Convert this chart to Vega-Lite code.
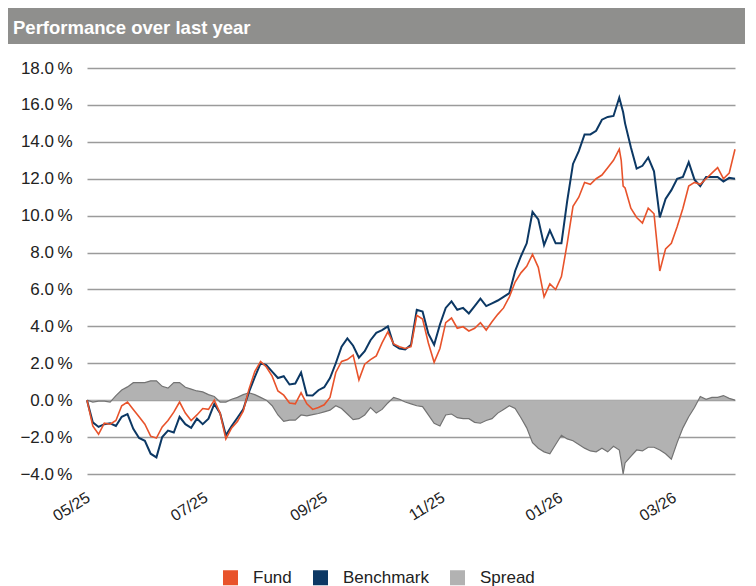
{
  "$schema": "https://vega.github.io/schema/vega-lite/v6.json",
  "padding": {"left": 8, "top": 8, "right": 0, "bottom": 0},
  "background": "white",
  "config": {
    "font": "Liberation Sans",
    "view": {"stroke": null},
    "concat": {"spacing": 15},
    "axisY": {"labelFontSize": 17, "labelOverlap": false},
    "axisX": {"labelFontSize": 16, "labelOverlap": false}
  },
  "datasets": {
    "perf": [
      {"date":"2025-04-30","Fund":0,"Benchmark":0,"Spread":0},
      {"date":"2025-05-03","Fund":-1.4,"Benchmark":-1.2,"Spread":-0.1},
      {"date":"2025-05-06","Fund":-1.85,"Benchmark":-1.45,"Spread":-0.05},
      {"date":"2025-05-09","Fund":-1.25,"Benchmark":-1.3,"Spread":-0.05},
      {"date":"2025-05-12","Fund":-1.3,"Benchmark":-1.25,"Spread":-0.1},
      {"date":"2025-05-15","Fund":-1.1,"Benchmark":-1.4,"Spread":0.25},
      {"date":"2025-05-18","Fund":-0.3,"Benchmark":-0.9,"Spread":0.55},
      {"date":"2025-05-21","Fund":-0.1,"Benchmark":-0.75,"Spread":0.72},
      {"date":"2025-05-24","Fund":-0.5,"Benchmark":-1.55,"Spread":0.95},
      {"date":"2025-05-27","Fund":-0.9,"Benchmark":-2.05,"Spread":0.95},
      {"date":"2025-05-30","Fund":-1.3,"Benchmark":-2.2,"Spread":0.95},
      {"date":"2025-06-02","Fund":-1.95,"Benchmark":-2.9,"Spread":1.05},
      {"date":"2025-06-05","Fund":-2.05,"Benchmark":-3.1,"Spread":1.05},
      {"date":"2025-06-08","Fund":-1.45,"Benchmark":-2.0,"Spread":0.75},
      {"date":"2025-06-11","Fund":-1.1,"Benchmark":-1.65,"Spread":0.65},
      {"date":"2025-06-14","Fund":-0.65,"Benchmark":-1.75,"Spread":0.95},
      {"date":"2025-06-17","Fund":-0.1,"Benchmark":-0.9,"Spread":0.95},
      {"date":"2025-06-20","Fund":-0.7,"Benchmark":-1.3,"Spread":0.7},
      {"date":"2025-06-23","Fund":-1.1,"Benchmark":-1.5,"Spread":0.6},
      {"date":"2025-06-26","Fund":-0.8,"Benchmark":-1.0,"Spread":0.5},
      {"date":"2025-06-29","Fund":-0.45,"Benchmark":-1.3,"Spread":0.45},
      {"date":"2025-07-02","Fund":-0.5,"Benchmark":-1.0,"Spread":0.3},
      {"date":"2025-07-05","Fund":0.0,"Benchmark":-0.2,"Spread":0.2},
      {"date":"2025-07-08","Fund":-0.7,"Benchmark":-0.7,"Spread":-0.1},
      {"date":"2025-07-11","Fund":-2.1,"Benchmark":-1.9,"Spread":-0.1},
      {"date":"2025-07-14","Fund":-1.5,"Benchmark":-1.4,"Spread":0.05},
      {"date":"2025-07-17","Fund":-1.15,"Benchmark":-0.95,"Spread":0.15},
      {"date":"2025-07-20","Fund":-0.6,"Benchmark":-0.5,"Spread":0.3},
      {"date":"2025-07-23","Fund":0.6,"Benchmark":0.45,"Spread":0.4},
      {"date":"2025-07-26","Fund":1.55,"Benchmark":1.25,"Spread":0.3},
      {"date":"2025-07-29","Fund":2.1,"Benchmark":2.0,"Spread":0.15},
      {"date":"2025-08-01","Fund":1.8,"Benchmark":1.9,"Spread":0.0},
      {"date":"2025-08-04","Fund":1.3,"Benchmark":1.55,"Spread":-0.3},
      {"date":"2025-08-07","Fund":0.5,"Benchmark":1.2,"Spread":-0.8},
      {"date":"2025-08-10","Fund":0.27,"Benchmark":1.3,"Spread":-1.15},
      {"date":"2025-08-13","Fund":-0.15,"Benchmark":0.85,"Spread":-1.08},
      {"date":"2025-08-16","Fund":-0.2,"Benchmark":0.9,"Spread":-1.08},
      {"date":"2025-08-19","Fund":0.4,"Benchmark":1.5,"Spread":-0.8},
      {"date":"2025-08-22","Fund":-0.2,"Benchmark":0.27,"Spread":-0.85},
      {"date":"2025-08-25","Fund":-0.5,"Benchmark":0.25,"Spread":-0.78},
      {"date":"2025-08-28","Fund":-0.4,"Benchmark":0.54,"Spread":-0.72},
      {"date":"2025-08-31","Fund":-0.25,"Benchmark":0.7,"Spread":-0.63},
      {"date":"2025-09-03","Fund":0.15,"Benchmark":1.2,"Spread":-0.54},
      {"date":"2025-09-06","Fund":1.5,"Benchmark":2.0,"Spread":-0.3},
      {"date":"2025-09-09","Fund":2.1,"Benchmark":2.9,"Spread":-0.45},
      {"date":"2025-09-12","Fund":2.2,"Benchmark":3.35,"Spread":-0.75},
      {"date":"2025-09-15","Fund":2.44,"Benchmark":2.95,"Spread":-1.05},
      {"date":"2025-09-18","Fund":1.1,"Benchmark":2.3,"Spread":-1.0},
      {"date":"2025-09-21","Fund":1.95,"Benchmark":2.65,"Spread":-0.8},
      {"date":"2025-09-24","Fund":2.2,"Benchmark":3.25,"Spread":-0.4},
      {"date":"2025-09-27","Fund":2.4,"Benchmark":3.65,"Spread":-0.7},
      {"date":"2025-09-30","Fund":3.1,"Benchmark":3.8,"Spread":-0.5},
      {"date":"2025-10-03","Fund":3.7,"Benchmark":4.0,"Spread":-0.15},
      {"date":"2025-10-06","Fund":3.05,"Benchmark":3.0,"Spread":0.15},
      {"date":"2025-10-09","Fund":2.9,"Benchmark":2.8,"Spread":0.05},
      {"date":"2025-10-12","Fund":2.8,"Benchmark":2.75,"Spread":-0.1},
      {"date":"2025-10-15","Fund":2.9,"Benchmark":3.0,"Spread":-0.2},
      {"date":"2025-10-18","Fund":4.6,"Benchmark":4.9,"Spread":-0.3},
      {"date":"2025-10-21","Fund":4.4,"Benchmark":4.8,"Spread":-0.35},
      {"date":"2025-10-24","Fund":3.1,"Benchmark":3.6,"Spread":-0.8},
      {"date":"2025-10-27","Fund":2.05,"Benchmark":3.0,"Spread":-1.25},
      {"date":"2025-10-30","Fund":2.8,"Benchmark":4.1,"Spread":-1.4},
      {"date":"2025-11-02","Fund":4.2,"Benchmark":5.0,"Spread":-0.8},
      {"date":"2025-11-05","Fund":4.45,"Benchmark":5.35,"Spread":-0.75},
      {"date":"2025-11-08","Fund":3.9,"Benchmark":4.9,"Spread":-0.95},
      {"date":"2025-11-11","Fund":3.98,"Benchmark":5.0,"Spread":-1.0},
      {"date":"2025-11-14","Fund":3.75,"Benchmark":4.7,"Spread":-1.0},
      {"date":"2025-11-17","Fund":3.9,"Benchmark":5.1,"Spread":-1.2},
      {"date":"2025-11-20","Fund":4.2,"Benchmark":5.5,"Spread":-1.25},
      {"date":"2025-11-23","Fund":3.8,"Benchmark":5.1,"Spread":-1.1},
      {"date":"2025-11-26","Fund":4.25,"Benchmark":5.25,"Spread":-1.0},
      {"date":"2025-11-29","Fund":4.65,"Benchmark":5.4,"Spread":-0.7},
      {"date":"2025-12-02","Fund":5.0,"Benchmark":5.6,"Spread":-0.5},
      {"date":"2025-12-05","Fund":5.6,"Benchmark":5.8,"Spread":-0.3},
      {"date":"2025-12-08","Fund":6.4,"Benchmark":7.0,"Spread":-0.45},
      {"date":"2025-12-11","Fund":6.9,"Benchmark":7.8,"Spread":-0.95},
      {"date":"2025-12-14","Fund":7.25,"Benchmark":8.5,"Spread":-1.5},
      {"date":"2025-12-17","Fund":7.9,"Benchmark":10.2,"Spread":-2.3},
      {"date":"2025-12-20","Fund":7.2,"Benchmark":9.8,"Spread":-2.6},
      {"date":"2025-12-23","Fund":5.6,"Benchmark":8.4,"Spread":-2.8},
      {"date":"2025-12-26","Fund":6.3,"Benchmark":9.2,"Spread":-2.9},
      {"date":"2025-12-29","Fund":6.0,"Benchmark":8.5,"Spread":-2.4},
      {"date":"2026-01-01","Fund":6.7,"Benchmark":8.5,"Spread":-1.9},
      {"date":"2026-01-04","Fund":8.5,"Benchmark":10.8,"Spread":-2.1},
      {"date":"2026-01-07","Fund":10.5,"Benchmark":12.8,"Spread":-2.2},
      {"date":"2026-01-10","Fund":11.0,"Benchmark":13.5,"Spread":-2.4},
      {"date":"2026-01-13","Fund":11.8,"Benchmark":14.4,"Spread":-2.6},
      {"date":"2026-01-16","Fund":11.7,"Benchmark":14.4,"Spread":-2.75},
      {"date":"2026-01-19","Fund":12.0,"Benchmark":14.6,"Spread":-2.8},
      {"date":"2026-01-22","Fund":12.2,"Benchmark":15.2,"Spread":-2.6},
      {"date":"2026-01-25","Fund":12.6,"Benchmark":15.35,"Spread":-2.8},
      {"date":"2026-01-28","Fund":13.0,"Benchmark":15.4,"Spread":-2.5},
      {"date":"2026-01-31","Fund":13.6,"Benchmark":16.4,"Spread":-2.7},
      {"date":"2026-02-01","Fund":13.0,"Benchmark":16.0,"Spread":-3.3},
      {"date":"2026-02-02","Fund":11.6,"Benchmark":15.6,"Spread":-4.0},
      {"date":"2026-02-03","Fund":11.5,"Benchmark":15.0,"Spread":-3.4},
      {"date":"2026-02-06","Fund":10.4,"Benchmark":13.7,"Spread":-3.05},
      {"date":"2026-02-09","Fund":9.9,"Benchmark":12.55,"Spread":-2.7},
      {"date":"2026-02-12","Fund":9.6,"Benchmark":12.7,"Spread":-2.75},
      {"date":"2026-02-15","Fund":10.4,"Benchmark":13.15,"Spread":-2.55},
      {"date":"2026-02-18","Fund":10.1,"Benchmark":12.4,"Spread":-2.55},
      {"date":"2026-02-21","Fund":7.0,"Benchmark":9.9,"Spread":-2.7},
      {"date":"2026-02-24","Fund":8.2,"Benchmark":10.9,"Spread":-2.9},
      {"date":"2026-02-27","Fund":8.5,"Benchmark":11.38,"Spread":-3.2},
      {"date":"2026-03-02","Fund":9.4,"Benchmark":12.0,"Spread":-2.3},
      {"date":"2026-03-05","Fund":10.4,"Benchmark":12.1,"Spread":-1.5},
      {"date":"2026-03-08","Fund":11.6,"Benchmark":12.9,"Spread":-0.9},
      {"date":"2026-03-11","Fund":11.8,"Benchmark":11.95,"Spread":-0.4},
      {"date":"2026-03-14","Fund":11.7,"Benchmark":11.6,"Spread":0.2},
      {"date":"2026-03-17","Fund":12.0,"Benchmark":12.1,"Spread":0.05},
      {"date":"2026-03-20","Fund":12.3,"Benchmark":12.1,"Spread":0.15},
      {"date":"2026-03-23","Fund":12.6,"Benchmark":12.1,"Spread":0.15},
      {"date":"2026-03-26","Fund":12.0,"Benchmark":11.85,"Spread":0.25},
      {"date":"2026-03-29","Fund":12.3,"Benchmark":12.05,"Spread":0.1},
      {"date":"2026-04-01","Fund":13.6,"Benchmark":12.0,"Spread":0.0}
    ]
  },
  "vconcat": [
    {
      "width": 737,
      "height": 36,
      "view": {"fill": "#8f8f8d", "stroke": null},
      "data": {"values": [{"label": "Performance over last year", "px": 0, "py": 0.5}]},
      "mark": {"type": "text", "align": "left", "baseline": "middle", "dx": 5, "dy": 2, "fontSize": 18.5, "fontWeight": "bold", "color": "white", "font": "Liberation Sans"},
      "encoding": {
        "x": {"field": "px", "type": "quantitative", "scale": {"domain": [0, 1]}, "axis": null},
        "y": {"field": "py", "type": "quantitative", "scale": {"domain": [0, 1]}, "axis": null},
        "text": {"field": "label"}
      }
    },
    {
      "width": 737,
      "height": 406,
      "view": {"stroke": null},
      "data": {"name": "perf"},
      "transform": [{"fold": ["Fund", "Benchmark", "Spread"], "as": ["series", "value"]}],
      "encoding": {
        "x": {
          "field": "date", "type": "temporal",
          "scale": {"domain": [{"year": 2025, "month": 4, "date": 30}, {"year": 2026, "month": 4, "date": 1}], "range": [79, 727]},
          "axis": {
            "title": null, "grid": false, "domain": false, "ticks": false,
            "values": [{"year": 2025, "month": 5, "date": 1}, {"year": 2025, "month": 7, "date": 1}, {"year": 2025, "month": 9, "date": 1}, {"year": 2025, "month": 11, "date": 1}, {"year": 2026, "month": 1, "date": 1}, {"year": 2026, "month": 3, "date": 1}],
            "format": "%m/%y", "labelAngle": -32, "labelAlign": "right", "labelBaseline": "top", "labelOffset": -5,
            "labelPadding": 15, "labelFontSize": 16, "labelColor": "#222222", "labelFlush": false, "labelOverlap": false, "labelFont": "Liberation Sans"
          }
        },
        "y": {
          "field": "value", "type": "quantitative",
          "scale": {"domain": [-4, 18], "nice": false, "zero": false},
          "axis": {
            "title": null, "values": [-4, -2, 0, 2, 4, 6, 8, 10, 12, 14, 16, 18],
            "labelExpr": "format(datum.value, '.1f') + '\u2009%'",
            "offset": -64, "domain": false, "ticks": false, "tickSize": 0, "labelPadding": 0,
            "labelFontSize": 17, "labelColor": "#222222", "labelFont": "Liberation Sans", "labelOverlap": false,
            "grid": true, "gridColor": "#9b9b9b", "gridWidth": 1.5
          }
        }
      },
      "layer": [
        {
          "transform": [{"filter": "datum.series === 'Spread'"}],
          "mark": {"type": "area", "opacity": 1},
          "encoding": {
            "y2": {"datum": 0},
            "color": {
              "field": "series", "type": "nominal",
              "scale": {"domain": ["Fund", "Benchmark", "Spread"], "range": ["#e8532b", "#0c3864", "#b2b2b2"]},
              "legend": {
                "title": null, "orient": "none", "legendX": 214, "legendY": 561, "direction": "horizontal",
                "symbolType": "square", "symbolSize": 225, "symbolStrokeWidth": 0,
                "labelFontSize": 17, "labelFont": "Liberation Sans", "labelColor": "#222222",
                "labelOffset": 14, "columnPadding": 20,
                "encode": {"symbols": {"update": {"fill": {"scale": "color", "field": "value"}, "opacity": {"value": 1}}}}
              }
            }
          }
        },
        {
          "transform": [{"filter": "datum.series === 'Spread'"}],
          "mark": {"type": "line", "color": "#737373", "strokeWidth": 1.2},
          "encoding": {}
        },
        {
          "transform": [{"filter": "datum.series === 'Benchmark'"}],
          "mark": {"type": "line", "strokeWidth": 2},
          "encoding": {"color": {"field": "series", "type": "nominal"}}
        },
        {
          "transform": [{"filter": "datum.series === 'Fund'"}],
          "mark": {"type": "line", "strokeWidth": 1.6},
          "encoding": {"color": {"field": "series", "type": "nominal"}}
        }
      ]
    }
  ],
  "resolve": {"scale": {"x": "independent", "y": "independent"}}
}
